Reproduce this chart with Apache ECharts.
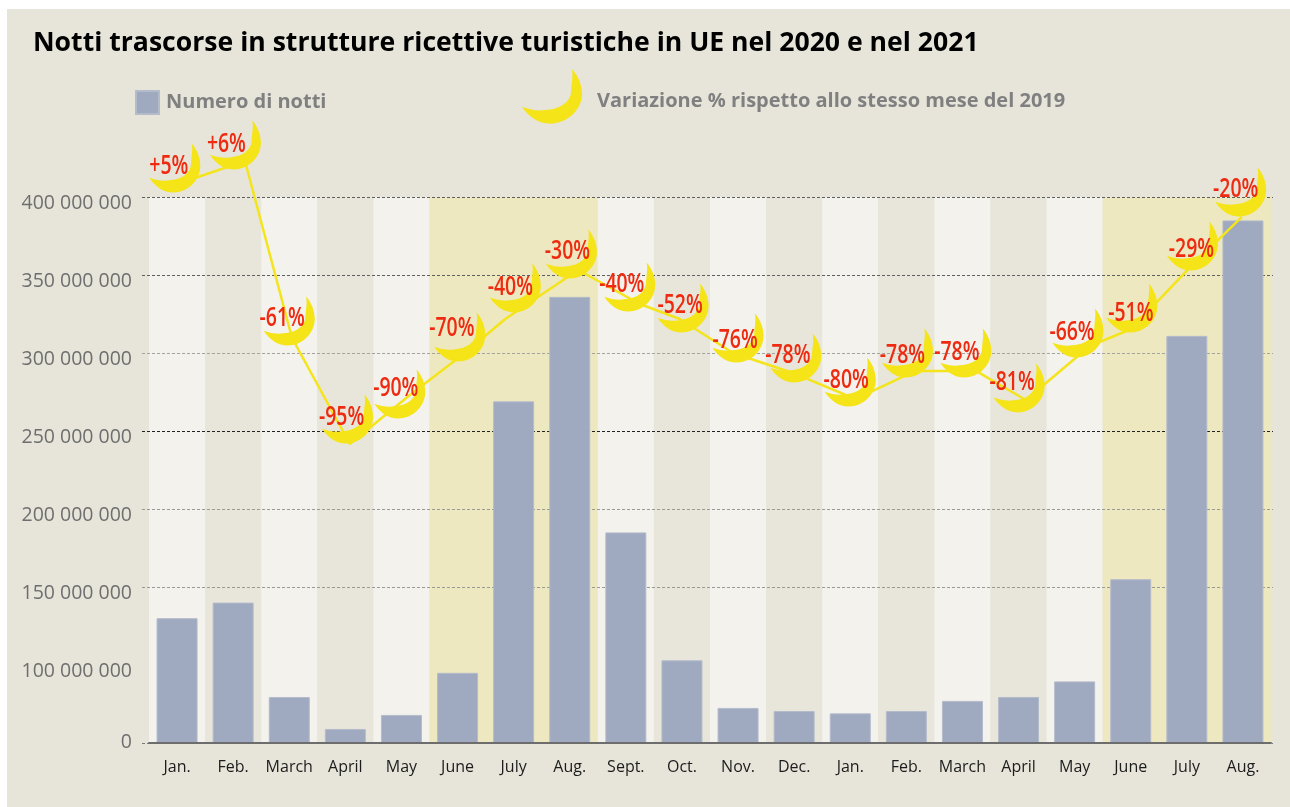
<!DOCTYPE html>
<html><head><meta charset="utf-8">
<style>html,body{margin:0;padding:0;background:#fff}#c{width:1290px;height:807px}</style>
<script src="https://cdn.jsdelivr.net/npm/echarts@6/dist/echarts.min.js"></script>
</head><body><div id="c"></div>
<script>
const months = ['Jan.','Feb.','March','April','May','June','July','Aug.','Sept.','Oct.','Nov.','Dec.','Jan.','Feb.','March','April','May','June','July','Aug.'];
const nights = [130e6,140e6,59e6,18e6,36e6,90e6,269e6,336e6,185e6,103e6,45e6,41e6,38e6,41e6,54e6,59e6,79e6,155e6,311e6,385e6];
const pctLabels = ['+5%','+6%','-61%','-95%','-90%','-70%','-40%','-30%','-40%','-52%','-76%','-78%','-80%','-78%','-78%','-81%','-66%','-51%','-29%','-20%'];
// the yellow line's height and month position, read on the nights scale
const lineLevel = [412.2,423.1,309.6,241.7,273.1,300,321.8,353.2,331.4,321.8,300,287.2,270.5,288.5,288.5,269.9,304.5,315.4,355.1,387.2];
const lineSlot = [.82,1.71,2.55,3.58,4.65,5.63,6.35,7.65,8.75,9.46,10.41,11.48,12.59,13.66,14.74,15.63,16.77,17.51,18.56,19.48];
const moonLevel = [418.6,433.3,320.5,257.7,273.7,310.2,341.7,363.4,342.3,328.8,309.6,296.8,281.4,300,300,277.6,312.8,328.8,368.6,403.2];
const moonSlot = [.46,1.54,2.5,3.54,4.47,5.54,6.53,7.53,8.57,9.52,10.5,11.53,12.5,13.52,14.56,15.51,16.56,17.52,18.6,19.46];
const summerMonths = [5,6,7,17,18,19];
// layout only: how far each percentage sits from its moon, in pixels
const pctDx = [-6,-9,-7,-6,-4,-8,-5,-4,-8,-3,-3,-8,-4,-5,-9,-7,-6,-1,-1,-5];
const pctDy = [-2,-1,-3,-2,-6,-9,-1,-3,-3,-3,2,-3,-2,2,-1,-6,-1,5,3,-3];

const MOON = 'path://M150 0C170 20 181 50 181 75C181 125 135 165 85 165C50 165 20 145 0 115C25 122 45 128 70 124C115 122 148 98 148 68C150 40 155 20 150 0Z';
const fmt = v => String(v).replace(/\B(?=(\d{3})+$)/g,' ');
const BG='#e7e5da', TOP=197, BOTTOM=64;
const brk=[{start:0,end:100e6,gap:50e6}];
const FONT='"Open Sans"';
const chart = echarts.init(document.getElementById('c'),null,{renderer:'canvas'});
chart.setOption({
  animation:false,
  graphic:[{type:'rect',z:-100,silent:true,shape:{x:7,y:9,width:1283,height:798},style:{fill:BG}}],
  title:{text:'Notti trascorse in strutture ricettive turistiche in UE nel 2020 e nel 2021',left:33,top:30,padding:0,
    textStyle:{fontFamily:FONT,fontWeight:'bold',fontSize:26.6,color:'#000'}},
  legend:[
    {left:135,top:90,padding:0,itemWidth:23,itemHeight:23,itemGap:0,selectedMode:false,data:[{name:'Numero di notti',icon:'rect'}],
     textStyle:{fontFamily:FONT,fontWeight:'bold',fontSize:20,color:'#808080',padding:[0,0,0,2]}},
    {left:522,top:69,padding:0,itemWidth:60,itemHeight:55,itemGap:0,selectedMode:false,data:[{name:'Variazione % rispetto allo stesso mese del 2019',icon:MOON}],
     formatter:n=>'{a|'+n+'}',
     textStyle:{fontFamily:FONT,fontWeight:'bold',fontSize:20,color:'#808080',
       rich:{a:{fontFamily:FONT,fontWeight:'bold',fontSize:20,color:'#808080',padding:[10,0,0,10]}}}}
  ],
  grid:[
    {left:142,right:17,top:TOP,bottom:BOTTOM},
    {left:149,right:19,top:TOP,bottom:BOTTOM}
  ],
  xAxis:[
    {gridIndex:0,type:'value',min:0,max:1,show:false},
    {gridIndex:1,type:'category',data:months,z:3,axisLine:{lineStyle:{color:'#6d6d6d',width:2}},axisTick:{show:false},
     axisLabel:{interval:0,margin:16,color:'#1c1c1c',fontFamily:FONT,fontSize:16}},
    {gridIndex:1,type:'category',data:months,show:false},
    {gridIndex:1,type:'value',min:0,max:20,show:false}
  ],
  yAxis:[
    {gridIndex:0,type:'value',min:0,max:400e6,interval:50e6,breaks:brk,breakArea:{show:false},z:1,
     axisLine:{show:false},axisTick:{show:false},
     splitLine:{show:true,lineStyle:{color:['#7a7a7a','#9a9a94','#9a9a94','#222222','#a4a49e','#5f5f5f','#5f5f5f'],type:[3,2],width:1}},
     axisLabel:{margin:10,color:'#6e6e6e',fontFamily:FONT,fontSize:19.5,
       formatter:v=>v===0?'{z|0}':'{n|'+fmt(v)+'}',
       rich:{n:{padding:[12,0,0,0],fontFamily:FONT,fontSize:19.5,color:'#6e6e6e'},z:{padding:[0,0,2,0],fontFamily:FONT,fontSize:19.5,color:'#6e6e6e'}}}},
    {gridIndex:1,type:'value',min:0,max:400e6,interval:50e6,breaks:brk,breakArea:{show:false},show:false},
    {gridIndex:1,type:'value',min:50,max:400,interval:50,show:false}
  ],
  series:[
    {type:'bar',name:'bands',xAxisIndex:2,yAxisIndex:1,barWidth:'100%',z:0,silent:true,
     data:months.map((m,i)=>({value:400e6,itemStyle:{color:summerMonths.includes(i)?'#eee8c0':(i%2===0?'#f3f2ed':'#e8e6da')}}))},
    {type:'bar',name:'Numero di notti',xAxisIndex:1,yAxisIndex:1,data:nights,barWidth:41,z:2,
     itemStyle:{color:'#9fa9bf',borderColor:'#b4bbcb',borderWidth:1}},
    {type:'line',name:'linea',xAxisIndex:3,yAxisIndex:2,clip:false,z:3,showSymbol:false,symbol:'none',
     lineStyle:{color:'#f4e41c',width:2.5},data:lineSlot.map((s,i)=>[s,lineLevel[i]])},
    {type:'scatter',name:'Variazione % rispetto allo stesso mese del 2019',xAxisIndex:3,yAxisIndex:2,clip:false,z:4,
     symbol:MOON,symbolSize:[51,49],itemStyle:{color:'#f4e418',opacity:1},
     data:moonSlot.map((s,i)=>[s,moonLevel[i]])},
    {type:'custom',name:'percentuali',coordinateSystem:'cartesian2d',xAxisIndex:3,yAxisIndex:2,z:5,silent:true,
     encode:{x:0,y:1},clip:false,
     renderItem:(params,api)=>{
       const i=params.dataIndex, p=api.coord([api.value(0),api.value(1)]);
       return {type:'text',x:p[0]+pctDx[i],y:p[1]+pctDy[i],scaleX:.72,
         style:{text:pctLabels[i],fill:'#ee2a10',font:'600 27px "Open Sans"',align:'center',verticalAlign:'middle'}};
     },
     data:moonSlot.map((s,i)=>[s,moonLevel[i]])}
  ]
});
</script></body></html>
